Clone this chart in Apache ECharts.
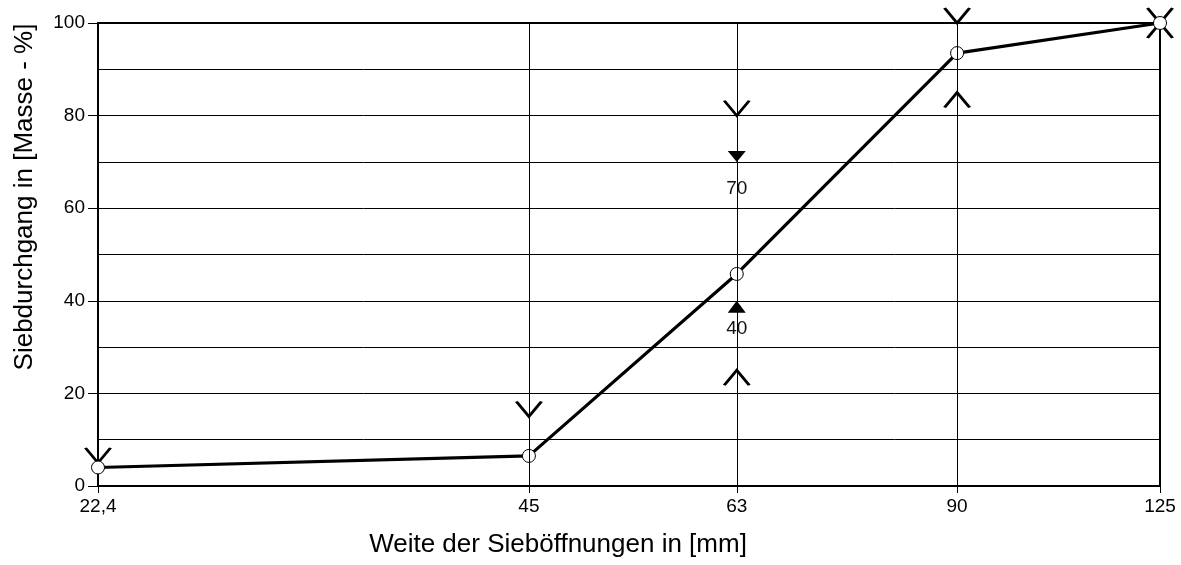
<!DOCTYPE html>
<html>
<head>
<meta charset="utf-8">
<script src="https://cdn.jsdelivr.net/npm/echarts@6/dist/echarts.min.js"></script>
<style>
html,body{margin:0;padding:0;background:#fff;}
#c{width:1181px;height:565px;}
</style>
</head>
<body>
<div id="c"></div>
<script>
// Data
const sieveSizes = [22.4, 45, 63, 90, 125];
const passing = [4, 6.5, 45.8, 93.5, 100];
const upperLimitSizes = [22.4, 45, 63, 90, 125];
const upperLimits = [5, 15, 80, 100, 100];
const lowerLimitSizes = [63, 90, 125];
const lowerLimits = [25, 85, 100];
const markerDown = [[63, 70]];
const markerUp = [[63, 40]];
const xTickLabels = ['22,4', '45', '63', '90', '125'];
const yTicks = [0, 20, 40, 60, 80, 100];
const xTitle = 'Weite der Sieböffnungen in [mm]';
const yTitle = 'Siebdurchgang in [Masse - %]';

const FONT = 'Liberation Sans, Arial, sans-serif';
const chart = echarts.init(document.getElementById('c'), null, {renderer: 'canvas'});

const pairs = (xs, ys) => xs.map((x, i) => [x, ys[i]]);

const option = {
  backgroundColor: '#fff',
  animation: false,
  textStyle: {fontFamily: FONT, color: '#000'},
  grid: {left: 98, right: 21, top: 23, bottom: 79, show: true, borderColor: '#000', borderWidth: 2, backgroundColor: 'transparent'},
  xAxis: {
    type: 'log', logBase: 10, min: sieveSizes[0], max: sieveSizes[sieveSizes.length - 1],
    axisLine: {show: true, lineStyle: {color: '#000', width: 2}},
    axisTick: {show: true, length: 7, customValues: sieveSizes, lineStyle: {color: '#000', width: 1}},
    axisLabel: {show: true, customValues: sieveSizes, margin: 11, fontSize: 19, color: '#000', fontFamily: FONT,
      formatter: v => { const i = sieveSizes.findIndex(s => Math.abs(s - v) < 1e-6); return i >= 0 ? xTickLabels[i] : ''; }},
    splitLine: {show: false}, minorSplitLine: {show: false}
  },
  yAxis: {
    type: 'value', min: yTicks[0], max: yTicks[yTicks.length - 1], interval: 20,
    axisLine: {show: true, lineStyle: {color: '#000', width: 2}},
    axisTick: {show: true, length: 10, lineStyle: {color: '#000', width: 1}},
    axisLabel: {show: true, margin: 13, fontSize: 19, color: '#000', fontFamily: FONT},
    splitLine: {show: true, lineStyle: {color: '#000', width: 1}},
    minorTick: {show: false, splitNumber: 2},
    minorSplitLine: {show: true, lineStyle: {color: '#000', width: 1}}
  },
  graphic: [
    {type: 'text', x: 558, y: 545, style: {text: xTitle, font: '26px ' + FONT, fill: '#000', textAlign: 'center', textVerticalAlign: 'middle'}},
    {type: 'text', x: 25, y: 197, rotation: Math.PI / 2, style: {text: yTitle, font: '26px ' + FONT, fill: '#000', textAlign: 'center', textVerticalAlign: 'middle'}}
  ],
  series: [
    {
      type: 'line', z: 1, data: [], symbol: 'none', silent: true,
      markLine: {silent: true, symbol: ['none', 'none'], label: {show: false},
        lineStyle: {color: '#000', width: 1, type: 'solid'},
        data: sieveSizes.slice(1, -1).map(v => ({xAxis: v}))}
    },
    {
      type: 'scatter', z: 2, silent: true,
      data: pairs(upperLimitSizes, upperLimits),
      symbol: 'path://M0,0L12.5,15L25,0', symbolSize: [25, 15], symbolOffset: [0, -7.5],
      itemStyle: {color: 'rgba(0,0,0,0)', borderColor: '#000', borderWidth: 2.5, opacity: 1}
    },
    {
      type: 'scatter', z: 2, silent: true,
      data: pairs(lowerLimitSizes, lowerLimits),
      symbol: 'path://M0,15L12.5,0L25,15', symbolSize: [25, 15], symbolOffset: [0, 7.5],
      itemStyle: {color: 'rgba(0,0,0,0)', borderColor: '#000', borderWidth: 2.5, opacity: 1}
    },
    {
      type: 'scatter', z: 2, silent: true,
      data: markerDown.map(d => ({value: d, label: {show: true, position: 'bottom', distance: 17, formatter: String(d[1])}})),
      symbol: 'path://M0,0L18,0L9,11Z', symbolSize: [18, 11], symbolOffset: [0, -5.5],
      itemStyle: {color: '#000', opacity: 1},
      label: {fontSize: 19, color: '#111', fontFamily: FONT}
    },
    {
      type: 'scatter', z: 2, silent: true,
      data: markerUp.map(d => ({value: d, label: {show: true, position: 'bottom', distance: 6, formatter: String(d[1])}})),
      symbol: 'path://M0,12L9,0L18,12Z', symbolSize: [18, 12], symbolOffset: [0, 6],
      itemStyle: {color: '#000', opacity: 1},
      label: {fontSize: 19, color: '#111', fontFamily: FONT}
    },
    {
      type: 'line', z: 3, silent: true,
      data: pairs(sieveSizes, passing),
      symbol: 'circle', symbolSize: 13, showAllSymbol: true,
      lineStyle: {color: '#000', width: 3.2},
      itemStyle: {color: '#fff', borderColor: '#000', borderWidth: 1}
    }
  ]
};
chart.setOption(option);
</script>
</body>
</html>
